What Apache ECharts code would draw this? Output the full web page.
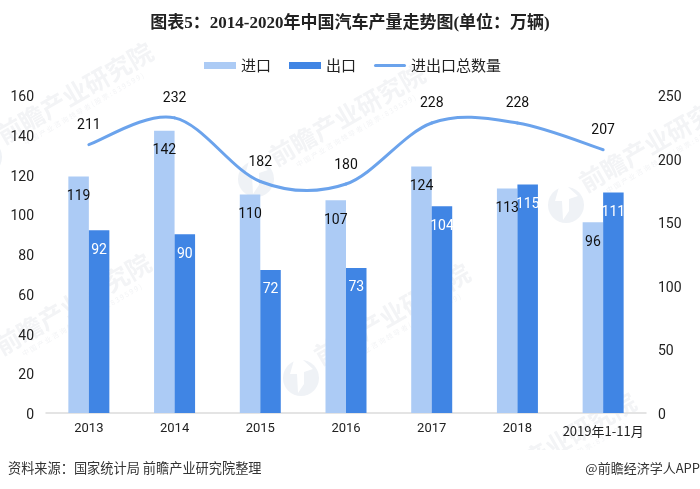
<!DOCTYPE html>
<html><head><meta charset="utf-8">
<style>html,body{margin:0;padding:0;background:#fff}#c{width:700px;height:489px}</style>
<script src="https://cdn.jsdelivr.net/npm/echarts@6/dist/echarts.min.js"></script></head>
<body><div id="c"></div>
<script>
const categories = ['2013','2014','2015','2016','2017','2018','2019年1-11月'];
const imports = [119,142,110,107,124,113,96];
const exportsData = [92,90,72,73,104,115,111];
const totals = [211,232,182,180,228,228,207];
const leftTicks = {min:0, max:160, interval:20};
const rightTicks = {min:0, max:250, interval:50};
const cjk = '"Noto Sans CJK SC","Noto Sans",sans-serif';
const num = '"Roboto",sans-serif';
const chart = echarts.init(document.getElementById('c'), null, {renderer:'canvas'});

const wmSpots = [[75,93],[347,115],[657,141],[73,304],[392,314],[558,443]];
const wmSub = '中 国 产 业 咨 询 领 导 者 ( 股 票 : 8 3 9 5 9 9 )';
const wmColor = '#f3f4f6';
const watermarks = [];
wmSpots.forEach(p => {
  watermarks.push({type:'text', x:p[0], y:p[1], rotation:Math.PI/6, z:-10, silent:true,
    style:{text:'前瞻产业研究院', font:'bold 25px '+cjk, fill:wmColor, textAlign:'center', textVerticalAlign:'middle'}});
  watermarks.push({type:'text', x:p[0]+9, y:p[1]+16, rotation:Math.PI/6, z:-10, silent:true,
    style:{text:wmSub, font:'7px '+cjk, fill:wmColor, textAlign:'center', textVerticalAlign:'middle'}});
  watermarks.push({type:'circle', x:p[0]-91, y:p[1]+64, z:-10, silent:true, shape:{r:18}, style:{fill:'#eff2f6'}});
  watermarks.push({type:'polygon', x:p[0]-91, y:p[1]+64, z:-10, silent:true,
    shape:{points:[[-7,-18],[2,-18],[12,-9],[3,-6],[3,6],[-3,15],[-4,-4],[-11,-4]]}, style:{fill:'#fff'}});
});

function renderTotal(params, api){
  const i = params.dataIndex;
  const at = k => api.coord([Math.max(0,Math.min(totals.length-1,k)), totals[Math.max(0,Math.min(totals.length-1,k))]]);
  const p1 = at(i), children = [];
  if(i < totals.length-1){
    const p0 = at(i-1), p2 = at(i+1), p3 = at(i+2);
    children.push({type:'bezierCurve', silent:true, shape:{
      x1:p1[0], y1:p1[1], x2:p2[0], y2:p2[1],
      cpx1:p1[0]+(p2[0]-p0[0])/6, cpy1:p1[1]+(p2[1]-p0[1])/6,
      cpx2:p2[0]-(p3[0]-p1[0])/6, cpy2:p2[1]-(p3[1]-p1[1])/6},
      style:{fill:null, stroke:'#6ba3ec', lineWidth:3, lineCap:'round'}});
  }
  children.push({type:'text', x:p1[0], y:p1[1]-19, silent:true,
    style:{text:String(totals[i]), font:'14px '+num, fill:'#111', textAlign:'center', textVerticalAlign:'middle'}});
  return {type:'group', children};
}

const yLabel = {color:'#222', fontSize:14, margin:12, fontFamily:num, formatter:'{t|{value}}',
  rich:{t:{color:'#222', fontSize:14, fontFamily:num, padding:[5,0,0,0]}}};

chart.setOption({
  animation:false,
  backgroundColor:'#fff',
  textStyle:{fontFamily:cjk},
  title:{text:'图表5：2014-2020年中国汽车产量走势图(单位：万辆)', left:'center', top:10,
    textStyle:{fontFamily:'"Liberation Serif","Noto Sans CJK SC",serif', fontSize:17, fontWeight:'bold', color:'#222'}},
  legend:{top:53, left:199, itemWidth:32, itemHeight:7, itemGap:18,
    textStyle:{fontSize:15, color:'#222', fontFamily:cjk},
    data:[{name:'进口',icon:'rect'},{name:'出口',icon:'rect'},
      {name:'进出口总数量',icon:'path://M0 0L0 0M1.5 2H30.5A1.5 1.5 0 0 1 30.5 5H1.5A1.5 1.5 0 0 1 1.5 2ZM32 7L32 7'}]},
  grid:{left:46, right:54, top:95, bottom:76},
  xAxis:{type:'category',
    data:categories.map(c => c.length > 4 ? {value:c, textStyle:{fontSize:13, fontFamily:cjk, padding:[3,0,0,0]}} : c),
    axisTick:{show:false},
    axisLine:{lineStyle:{color:'#dcdcdc',width:1.5}},
    axisLabel:{color:'#222', fontSize:13, margin:9, interval:0, fontFamily:num}},
  yAxis:[
    Object.assign({type:'value', splitLine:{show:false}, axisLine:{show:false}, axisTick:{show:false}, axisLabel:yLabel}, leftTicks),
    Object.assign({type:'value', splitLine:{show:false}, axisLine:{show:false}, axisTick:{show:false}, axisLabel:yLabel}, rightTicks)
  ],
  graphic:watermarks.concat([
    {type:'rect', x:0, y:450, z:-9, silent:true, shape:{width:700,height:39}, style:{fill:'#fff'}},
    {type:'text', x:8, y:468, silent:true, style:{text:'资料来源：国家统计局 前瞻产业研究院整理', font:'13.2px '+cjk, fill:'#333', textVerticalAlign:'middle'}},
    {type:'text', x:700, y:468, silent:true, style:{text:'@前瞻经济学人APP', font:'13px '+cjk, fill:'#333', textAlign:'right', textVerticalAlign:'middle'}}
  ]),
  series:[
    {name:'进口', type:'bar', data:imports, barWidth:20.5, barGap:'0%', z:2,
     itemStyle:{color:'#accbf5'},
     label:{show:true, position:'insideTop', distance:13, color:'#111', fontSize:14, fontFamily:num}},
    {name:'出口', type:'bar', data:exportsData, barWidth:20.5, z:2,
     itemStyle:{color:'#4085e4'},
     label:{show:true, position:'insideTop', distance:13, color:'#fff', fontSize:14, fontFamily:num}},
    {name:'进出口总数量', type:'custom', yAxisIndex:1, z:3, clip:false,
     data:totals.map((v,i) => [i,v]), encode:{x:0,y:1},
     itemStyle:{color:'#6ba3ec'}, renderItem:renderTotal}
  ]
});
</script></body></html>
